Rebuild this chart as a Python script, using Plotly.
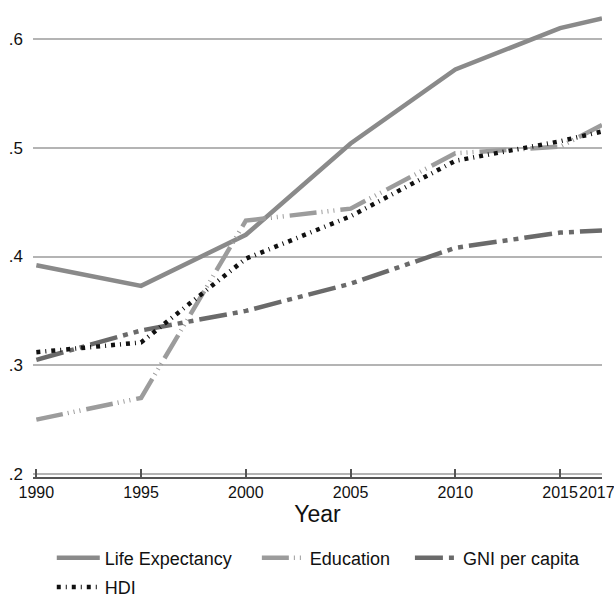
import plotly.graph_objects as go

years = [1990, 1995, 2000, 2005, 2010, 2015, 2017]
life_expectancy = [0.392, 0.373, 0.420, 0.504, 0.572, 0.610, 0.619]
education = [0.250, 0.270, 0.433, 0.444, 0.495, 0.501, 0.521]
gni_per_capita = [0.305, 0.332, 0.350, 0.375, 0.408, 0.422, 0.424]
hdi = [0.312, 0.321, 0.398, 0.437, 0.488, 0.506, 0.515]

x_ticks = [1990, 1995, 2000, 2005, 2010, 2015, 2017]
x_labels = ["1990", "1995", "2000", "2005", "2010", "2015", "2017"]
y_ticks = [0.2, 0.3, 0.4, 0.5, 0.6]
y_labels = [".2", ".3", ".4", ".5", ".6"]

NB = "\u00a0"
TICK_FONT = dict(family="Liberation Sans Narrow, Arial Narrow, sans-serif", size=16, color="#111111")

fig = go.Figure()
fig.add_trace(go.Scatter(x=years, y=life_expectancy, mode="lines", name="Life Expectancy" + NB * 4,
                         line=dict(color="#8a8a8a", width=4.5), legend="legend"))
fig.add_trace(go.Scatter(x=years, y=education, mode="lines", name="Education" + NB * 3,
                         line=dict(color="#9c9c9c", width=4.5,
                                   dash="27px,5px,1px,5px,1px,5px,1px,6px"), legend="legend"))
fig.add_trace(go.Scatter(x=years, y=gni_per_capita, mode="lines", name="GNI per capita",
                         line=dict(color="#6a6a6a", width=4.5,
                                   dash="28px,6px,5px,6px,5px,6px"), legend="legend"))
fig.add_trace(go.Scatter(x=years, y=hdi, mode="lines", name="HDI",
                         line=dict(color="#111111", width=4.5, dash="4px,5px,1px,5px"),
                         legend="legend2"))

# last tick label is right-aligned at the edge so it stays inside the picture
fig.add_annotation(x=x_ticks[-1], y=0, xref="x", yref="paper", text=x_labels[-1],
                   showarrow=False, xanchor="right", yanchor="top", xshift=14, yshift=-6,
                   borderpad=0, font=TICK_FONT)

fig.update_layout(
    width=614, height=599,
    margin=dict(l=33, r=12, t=0, b=122, autoexpand=False),
    plot_bgcolor="white", paper_bgcolor="white",
    font=dict(family="Liberation Sans, Arial, sans-serif", color="#111111"),
    showlegend=True,
    legend=dict(orientation="h", x=0.033, xanchor="left", y=-0.131, yanchor="top",
                font=dict(size=18), itemwidth=43, tracegroupgap=0),
    legend2=dict(orientation="h", x=0.033, xanchor="left", y=-0.1925, yanchor="top",
                 font=dict(size=18), itemwidth=43, tracegroupgap=0),
    xaxis=dict(range=[1989.84, 2017], tickvals=x_ticks, ticktext=x_labels[:-1] + [""],
               showgrid=False, zeroline=False, showline=True, linecolor="#555555", linewidth=1.5,
               ticks="inside", ticklen=8, tickwidth=1.5, tickcolor="#555555", tickangle=0,
               automargin=False, tickfont=TICK_FONT,
               title=dict(text="Year", font=dict(size=23), standoff=0)),
    yaxis=dict(range=[0.19724, 0.6359], tickvals=y_ticks, ticktext=y_labels,
               showgrid=True, gridcolor="#b4b4b4", gridwidth=2, zeroline=False, automargin=False,
               showline=False, ticks="", tickfont=dict(size=17), ticklabelstandoff=9),
)

fig.write_html(
    "out.html",
    config={"displayModeBar": False},
    post_script="document.body.style.margin='0';document.documentElement.style.overflow='hidden';document.body.style.overflow='hidden';",
)
